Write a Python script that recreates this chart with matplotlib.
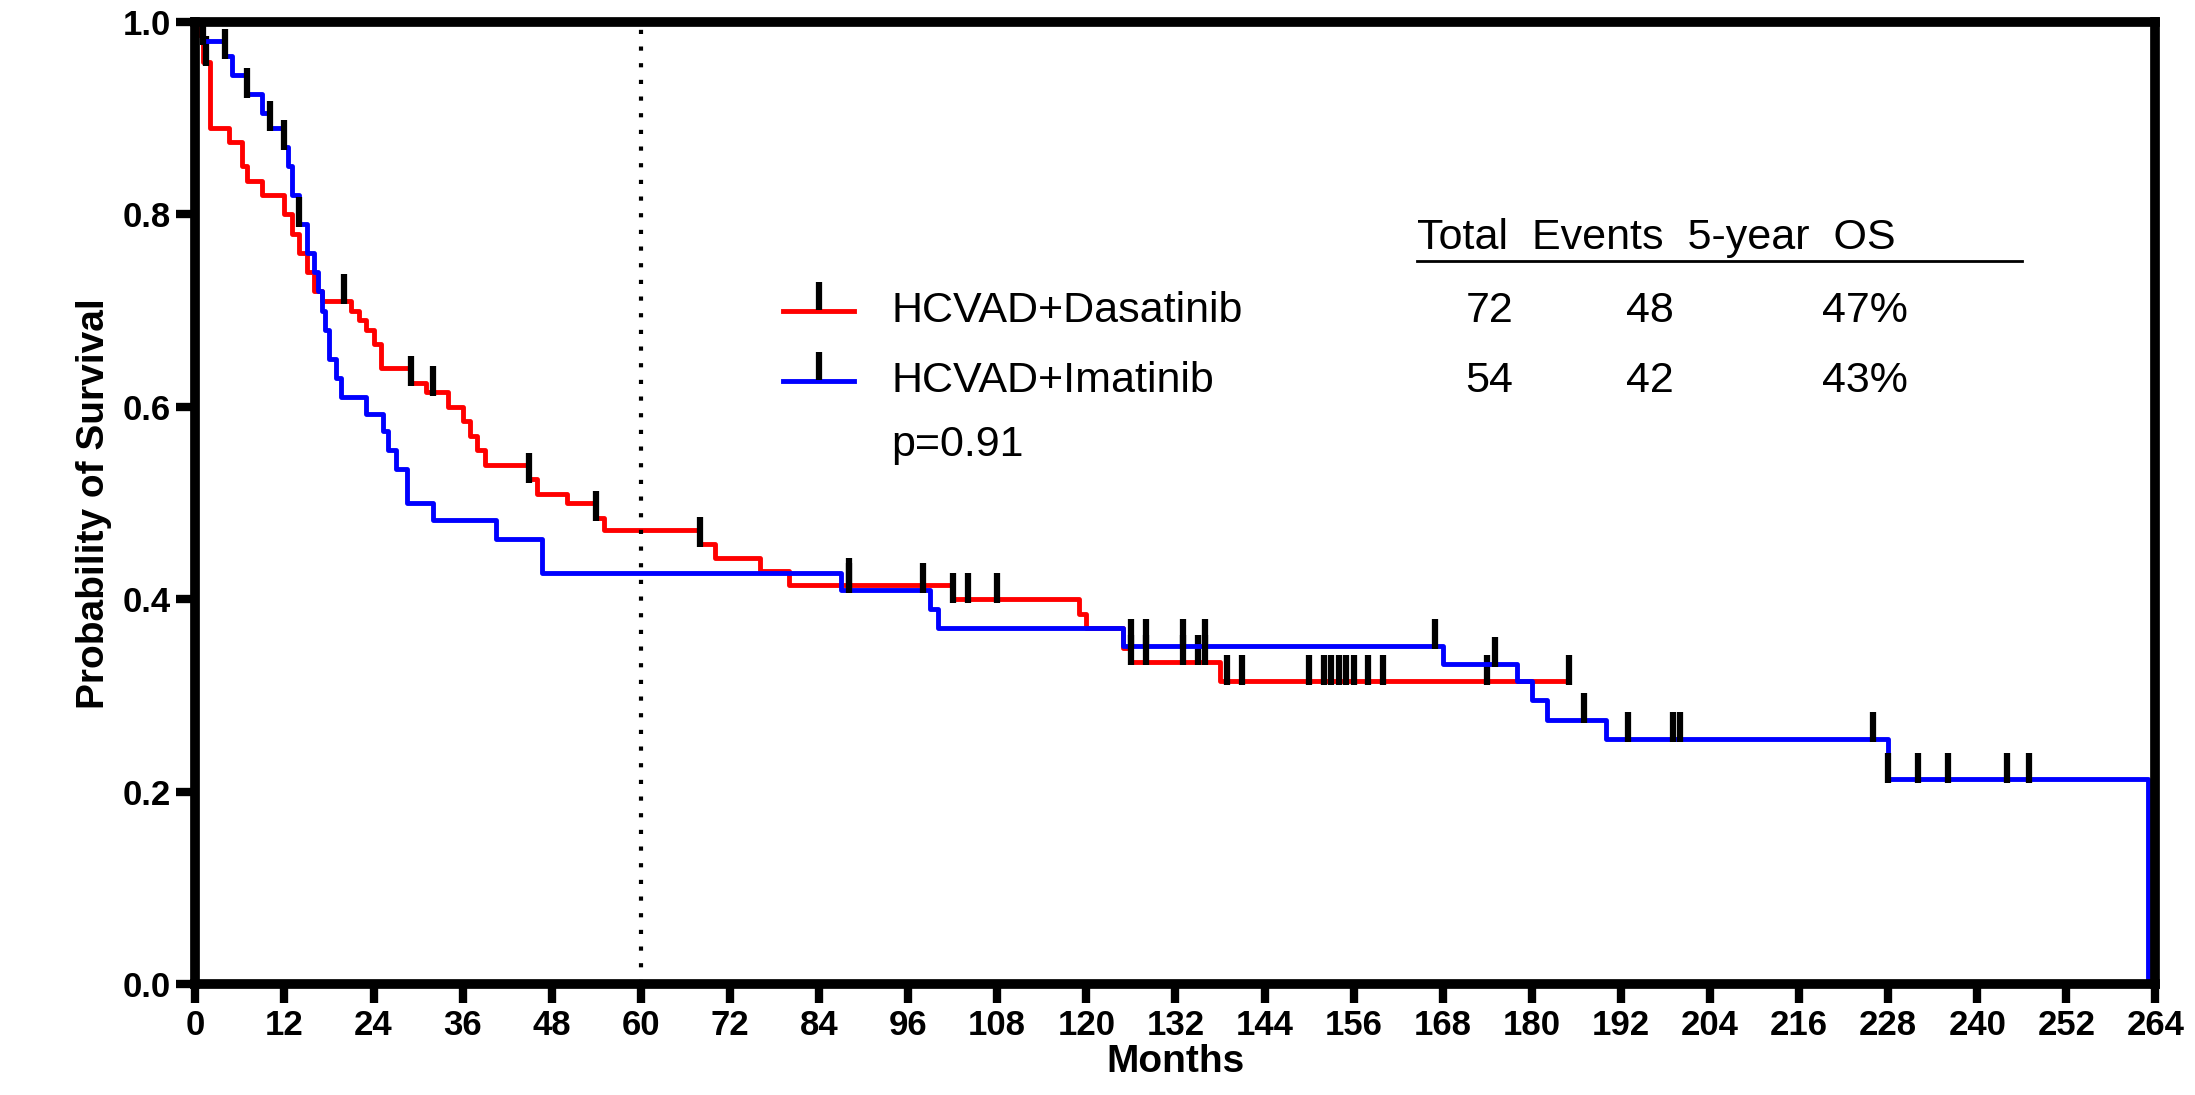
import matplotlib
matplotlib.use("Agg")
import matplotlib.pyplot as plt

# HCVAD+Dasatinib: step times (months) and survival after each step
das_t = [0, 0.5, 1, 2, 4.5, 6.3, 7, 9, 12, 13, 14, 15, 16, 17, 21, 22, 23, 24, 25, 29, 31, 34, 36, 37,
         38, 39, 45, 46, 50, 54, 55, 68, 70, 76, 80, 102, 119, 120, 125, 126, 138, 185]
das_s = [1.0, 0.986, 0.958, 0.89, 0.875, 0.85, 0.835, 0.82, 0.80, 0.78, 0.76, 0.74, 0.72, 0.71, 0.70,
         0.69, 0.68, 0.665, 0.64, 0.625, 0.615, 0.60, 0.585, 0.57, 0.555, 0.54, 0.525, 0.51, 0.50,
         0.485, 0.472, 0.458, 0.443, 0.43, 0.415, 0.40, 0.385, 0.37, 0.35, 0.335, 0.315, 0.315]
das_cens_t = [0.3, 1.5, 20, 29, 32, 45, 54, 68, 88, 102, 104, 108, 126, 128, 133, 135, 136, 139, 141,
              150, 152, 153, 154, 155, 156, 158, 160, 174, 185]

# HCVAD+Imatinib
ima_t = [0, 1, 4, 5, 7, 9, 10, 12, 12.5, 13, 14, 15, 16, 16.5, 17, 17.5, 18, 19, 19.6, 23, 25.3, 26,
         27, 28.5, 32, 40.5, 46.7, 87, 99, 100, 125, 168, 178, 180, 182, 190, 228, 263, 263.01]
ima_s = [1.0, 0.98, 0.965, 0.945, 0.925, 0.905, 0.89, 0.87, 0.85, 0.82, 0.79, 0.76, 0.74, 0.72, 0.70,
         0.68, 0.65, 0.63, 0.61, 0.593, 0.575, 0.555, 0.535, 0.5, 0.483, 0.463, 0.427, 0.41, 0.39,
         0.37, 0.352, 0.333, 0.315, 0.295, 0.275, 0.255, 0.213, 0.213, 0.0]
ima_cens_t = [1, 4, 7, 10, 12, 14, 88, 98, 126, 128, 133, 136, 167, 175, 187, 193, 199, 200, 226,
              228, 232, 236, 244, 247]

groups = ["HCVAD+Dasatinib", "HCVAD+Imatinib"]
totals = [72, 54]
events = [48, 42]
os5 = ["47%", "43%"]


def surv_at(ts, ss, x):
    v = ss[0]
    for t, s in zip(ts, ss):
        if t <= x:
            v = s
    return v


plt.rcParams['font.family'] = ['Liberation Sans', 'DejaVu Sans']
fig = plt.figure(figsize=(21.95, 10.95), dpi=100)
ax = fig.add_axes([0.089, 0.101, 0.893, 0.879])

for ts, ss, ct, col in [(das_t, das_s, das_cens_t, 'red'), (ima_t, ima_s, ima_cens_t, 'blue')]:
    ax.step(ts, ss, where='post', color=col, lw=3.5)
    ax.plot(ct, [surv_at(ts, ss, c) + 0.012 for c in ct], ls='none', marker='|',
            color='black', ms=22, mew=4.5)

ax.axvline(60, color='black', ls=(0, (1, 3)), lw=3)

ax.set_xlim(0, 264)
ax.set_ylim(0, 1.0)
ax.set_xticks(range(0, 265, 12))
ax.set_yticks([0, 0.2, 0.4, 0.6, 0.8, 1.0])
ax.set_yticklabels(['0.0', '0.2', '0.4', '0.6', '0.8', '1.0'])
for sp in ax.spines.values():
    sp.set_linewidth(7)
ax.tick_params(width=6, length=14, labelsize=25)
for lab in ax.get_xticklabels() + ax.get_yticklabels():
    lab.set_fontweight('bold')
ax.set_xlabel('Months', fontsize=28, fontweight='bold', labelpad=2)
ax.set_ylabel('Probability of Survival', fontsize=28, fontweight='bold', labelpad=8)

# legend + table
fs = 31
ax.text(0.623, 0.775, 'Total  Events  5-year  OS', transform=ax.transAxes, fontsize=fs, va='center')
ax.plot([0.623, 0.932], [0.752, 0.752], transform=ax.transAxes, color='black', lw=2)
for i, (g, col) in enumerate(zip(groups, ['red', 'blue'])):
    y = 0.70 - i * 0.073
    ax.plot([0.3, 0.336], [y, y], transform=ax.transAxes, color=col, lw=3.5)
    ax.plot([0.318], [y + 0.015], transform=ax.transAxes, marker='|', color='black', ms=20, mew=4.5)
    ax.text(0.355, y, g, transform=ax.transAxes, fontsize=fs, va='center')
    ax.text(0.648, y, str(totals[i]), transform=ax.transAxes, fontsize=fs, va='center')
    ax.text(0.73, y, str(events[i]), transform=ax.transAxes, fontsize=fs, va='center')
    ax.text(0.83, y, os5[i], transform=ax.transAxes, fontsize=fs, va='center')
ax.text(0.355, 0.56, 'p=0.91', transform=ax.transAxes, fontsize=fs, va='center')

fig.savefig('out.png', dpi=100)
